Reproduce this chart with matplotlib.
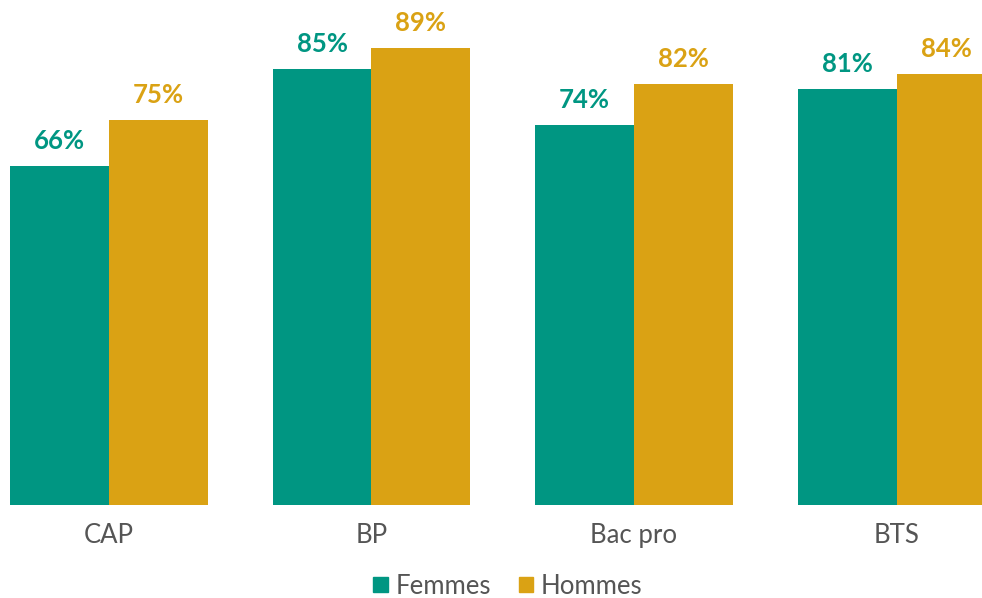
import matplotlib.pyplot as plt
from matplotlib.patches import Patch
import numpy as np

categories = ["CAP", "BP", "Bac pro", "BTS"]
femmes = [66, 85, 74, 81]
hommes = [75, 89, 82, 84]

teal = "#009682"
gold = "#DAA214"
grey = "#555555"

plt.rcParams['font.family'] = ['Lato', 'DejaVu Sans']

fig = plt.figure(figsize=(9.82, 5.98), dpi=100)
ax = fig.add_axes([0, 1 - 505 / 598, 1, 505 / 598])

x = np.arange(len(categories))
w = 0.377
b1 = ax.bar(x - w / 2, femmes, w, color=teal)
b2 = ax.bar(x + w / 2, hommes, w, color=gold)

for bars, vals, col in [(b1, femmes, teal), (b2, hommes, gold)]:
    for r, v in zip(bars, vals):
        ax.annotate('{:d}%'.format(v), (r.get_x() + r.get_width() / 2, v),
                    xytext=(0, 18), textcoords='offset points',
                    ha='center', va='center', fontsize=18.5,
                    fontweight='bold', color=col)

ax.set_xlim(-109 / 262.5, 873 / 262.5)
ax.set_ylim(0, 98.4)
ax.set_xticks(x)
ax.set_xticklabels(categories, fontsize=18.5, color=grey)
ax.tick_params(axis='x', length=0, pad=13)
ax.set_yticks([])
for s in ax.spines.values():
    s.set_visible(False)

handles = [Patch(color=teal, label="Femmes"), Patch(color=gold, label="Hommes")]
fig.legend(handles=handles, loc='center', bbox_to_anchor=(508 / 982, 12 / 598),
           ncol=2, frameon=False, fontsize=18.5, handlelength=0.55, handleheight=0.55,
           handletextpad=0.3, columnspacing=1.1, labelcolor=grey,
           borderpad=0, borderaxespad=0)

fig.savefig("out.png", dpi=100)
